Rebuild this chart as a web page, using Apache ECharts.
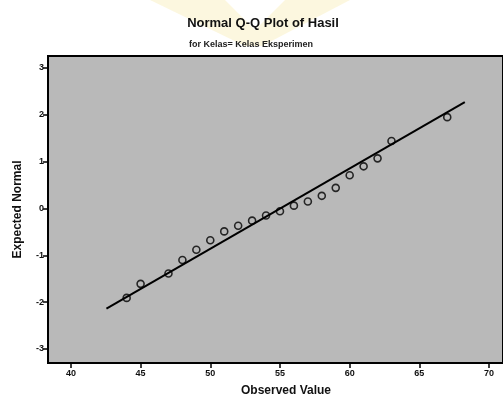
<!DOCTYPE html>
<html>
<head>
<meta charset="utf-8">
<script src="https://cdn.jsdelivr.net/npm/echarts@6/dist/echarts.min.js"></script>
<style>
html, body { margin: 0; padding: 0; background: #fff; }
#chart { width: 503px; height: 401px; }
</style>
</head>
<body>
<div id="chart"></div>
<script>
var observed = [44, 45, 47, 48, 49, 50, 51, 52, 53, 54, 55, 56, 57, 58, 59, 60, 61, 62, 63, 67];
var expected = [-1.91, -1.61, -1.39, -1.10, -0.88, -0.68, -0.49, -0.37, -0.26, -0.15,
                -0.06, 0.06, 0.15, 0.27, 0.44, 0.71, 0.90, 1.07, 1.44, 1.95];
// reference line ends
var lineX = [42.55, 68.26];
var lineY = [-2.14, 2.27];
var xTicks = [40, 45, 50, 55, 60, 65, 70];
var yTicks = [-3, -2, -1, 0, 1, 2, 3];

var points = observed.map(function(v, i) { return [v, expected[i]]; });
var refLine = lineX.map(function(v, i) { return [v, lineY[i]]; });

var chart = echarts.init(document.getElementById('chart'));
var font = 'Liberation Sans, Arial, sans-serif';

chart.setOption({
	backgroundColor: '#fff',
	animation: false,
	title: [{
		text: 'Normal Q-Q Plot of Hasil',
		left: 258, top: 12, textAlign: 'center',
		textStyle: { fontFamily: font, fontSize: 13, fontWeight: 'bold', color: '#111' }
	}, {
		text: 'for Kelas= Kelas Eksperimen',
		left: 246, top: 35, textAlign: 'center',
		textStyle: { fontFamily: font, fontSize: 9, fontWeight: 'bold', color: '#222' }
	}],
	graphic: [{
		type: 'polygon',
		z: -1,
		shape: { points: [[150, 0], [225, 0], [255, 30], [285, 0], [350, 0], [262, 46], [245, 46]] },
		style: { fill: '#fcf6dc', opacity: 0.9 }
	}, {
		type: 'text',
		style: { x: 286, y: 391, text: 'Observed Value', fontFamily: font, fontSize: 12, fontWeight: 'bold', fill: '#111', align: 'center', verticalAlign: 'middle' }
	}],
	grid: {
		left: 48, top: 56, right: -2, bottom: 38,
		show: true,
		backgroundColor: '#b9b9b9',
		borderColor: '#000',
		borderWidth: 2
	},
	xAxis: {
		type: 'value',
		min: 38.357, max: 71.0,
		axisLine: { show: true, onZero: false, lineStyle: { color: '#000', width: 2 } },
		axisTick: { show: true, length: 5, customValues: xTicks, lineStyle: { color: '#000', width: 1.5 } },
		axisLabel: { customValues: xTicks, fontFamily: font, fontSize: 9, fontWeight: 'bold', color: '#111', margin: 6 },
		splitLine: { show: false }
	},
	yAxis: {
		type: 'value',
		min: -3.30, max: 3.256,
		name: 'Expected Normal',
		nameLocation: 'middle',
		nameGap: 24,
		nameTextStyle: { fontFamily: font, fontSize: 12, fontWeight: 'bold', color: '#111' },
		axisLine: { show: true, onZero: false, lineStyle: { color: '#000', width: 2 } },
		axisTick: { show: true, length: 5, customValues: yTicks, lineStyle: { color: '#000', width: 1.5 } },
		axisLabel: { customValues: yTicks, fontFamily: font, fontSize: 9, fontWeight: 'bold', color: '#111', margin: 4 },
		splitLine: { show: false }
	},
	series: [{
		type: 'line',
		data: refLine,
		symbol: 'none',
		lineStyle: { color: '#000', width: 2 },
		z: 2
	}, {
		type: 'scatter',
		data: points,
		symbol: 'circle',
		symbolSize: 7,
		itemStyle: { color: 'rgba(0,0,0,0)', borderColor: '#000', borderWidth: 1.6 },
		z: 3
	}]
});
</script>
</body>
</html>
